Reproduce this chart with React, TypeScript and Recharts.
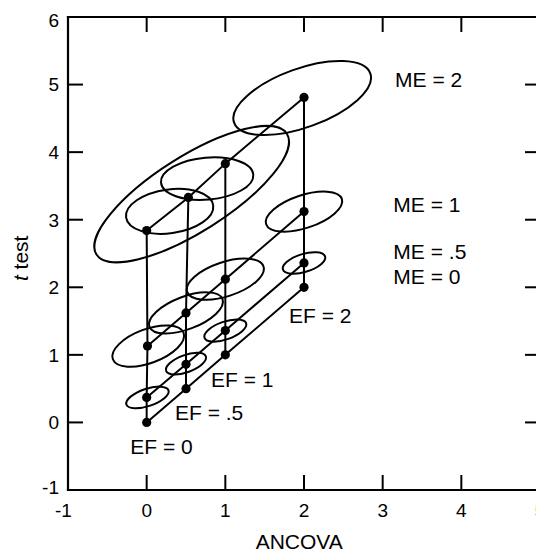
import React from 'react';
import { ScatterChart, Scatter, XAxis, YAxis } from 'recharts';

// ---------- data ----------
const xTicks = [-1, 0, 1, 2, 3, 4, 5];
const yTicks = [-1, 0, 1, 2, 3, 4, 5, 6];

// points [ANCOVA, t test] for each ME level, ordered by EF = 0, .5, 1, 2
const me0 = [[0, 0], [0.5, 0.5], [1, 1], [2, 2]];
const me05 = [[0, 0.37], [0.5, 0.86], [1, 1.36], [2, 2.36]];
const me1 = [[0.01, 1.13], [0.5, 1.62], [1, 2.12], [2, 3.12]];
const me2 = [[0, 2.84], [0.53, 3.33], [1, 3.83], [2, 4.81]];

// ellipses: centre, half-width (x units), half-height (y units), correlation
const ellipseList = [
  { x: 0.01, y: 0.37, halfW: 0.27, halfH: 0.16, rho: 0.55 },
  { x: 0.5, y: 0.87, halfW: 0.255, halfH: 0.16, rho: 0.55 },
  { x: 1, y: 1.36, halfW: 0.267, halfH: 0.165, rho: 0.55 },
  { x: 2, y: 2.36, halfW: 0.27, halfH: 0.16, rho: 0.5 },
  { x: 0.02, y: 1.13, halfW: 0.456, halfH: 0.306, rho: 0.5 },
  { x: 0.5, y: 1.62, halfW: 0.47, halfH: 0.305, rho: 0.55 },
  { x: 1, y: 2.12, halfW: 0.49, halfH: 0.305, rho: 0.5 },
  { x: 2, y: 3.12, halfW: 0.486, halfH: 0.297, rho: 0.52 },
  { x: 0.572, y: 3.378, halfW: 1.237, halfH: 1.009, rho: 0.77 },
  { x: 0.292, y: 3.124, halfW: 0.555, halfH: 0.333, rho: 0.2 },
  { x: 0.769, y: 3.609, halfW: 0.587, halfH: 0.315, rho: 0.15 },
  { x: 1.977, y: 4.801, halfW: 0.875, halfH: 0.548, rho: 0.55 },
];

const annotationList = [
  { x: 3.158, y: 4.969, text: 'ME = 2' },
  { x: 3.136, y: 3.11, text: 'ME = 1' },
  { x: 3.136, y: 2.414, text: 'ME = .5' },
  { x: 3.136, y: 2.05, text: 'ME = 0' },
  { x: 1.809, y: 1.467, text: 'EF = 2' },
  { x: 0.818, y: 0.52, text: 'EF = 1' },
  { x: 0.36, y: 0.036, text: 'EF = .5' },
  { x: -0.208, y: -0.46, text: 'EF = 0' },
];

// ---------- layout ----------
const W = 536;
const H = 543;
const PL = 60;
const PR = 532;
const PT = 9;
const PB = 482;
const KX = (PR - PL) / 6;
const KY = (PB - PT) / 7;
const FONT = '"Liberation Sans", Arial, Helvetica, sans-serif';
const TICK_LEN = 15;
const X_MAX = 5;
const Y_MAX = 6;

const toPts = (arr: number[][]) => arr.map(([x, y]) => ({ x, y }));
const rows = [me0, me05, me1, me2];
const rowData = rows.map(toPts);
const colData = [0, 1, 2, 3].map((j) => rows.map((r) => ({ x: r[j][0], y: r[j][1] })));

const XTick = (props: any) => {
  const { x, payload } = props;
  const v = payload.value;
  const dx = v < 0 ? -4.5 : 0;
  return (
    <g>
      <line x1={x} y1={PB} x2={x} y2={PB - TICK_LEN} stroke="#000" strokeWidth={2} />
      <line x1={x} y1={PT} x2={x} y2={PT + TICK_LEN} stroke="#000" strokeWidth={2} />
      {v === X_MAX && (
        <line x1={x} y1={PT} x2={x} y2={PB} stroke="#000" strokeWidth={2.2} strokeLinecap="square" />
      )}
      <text x={x + dx} y={PB + 27.3} textAnchor="middle" fontSize={19} fontFamily={FONT} fill="#000">
        {v}
      </text>
    </g>
  );
};

const YTick = (props: any) => {
  const { y, payload } = props;
  const v = payload.value;
  const shift = v === 6 ? 3 : v === -1 ? -2.5 : 0;
  return (
    <g>
      <line x1={PL} y1={y} x2={PL + TICK_LEN} y2={y} stroke="#000" strokeWidth={2} />
      <line x1={PR} y1={y} x2={PR - TICK_LEN} y2={y} stroke="#000" strokeWidth={2} />
      {v === Y_MAX && (
        <line x1={PL} y1={y} x2={PR} y2={y} stroke="#000" strokeWidth={2.2} strokeLinecap="square" />
      )}
      <text x={51} y={y + shift} dy="0.36em" textAnchor="end" fontSize={19} fontFamily={FONT} fill="#000">
        {v}
      </text>
    </g>
  );
};

const EllipseShape = (props: any) => {
  const { cx, cy, payload } = props;
  const wp = payload.halfW * KX;
  const hp = payload.halfH * KY;
  const sxx = wp * wp;
  const syy = hp * hp;
  const sxy = -payload.rho * wp * hp;
  const half = (sxx + syy) / 2;
  const diff = (sxx - syy) / 2;
  const disc = Math.sqrt(diff * diff + sxy * sxy);
  const a = Math.sqrt(half + disc);
  const b = Math.sqrt(Math.max(half - disc, 0.01));
  const deg = (0.5 * Math.atan2(2 * sxy, sxx - syy) * 180) / Math.PI;
  return (
    <ellipse
      cx={cx}
      cy={cy}
      rx={a}
      ry={b}
      transform={`rotate(${deg} ${cx} ${cy})`}
      fill="none"
      stroke="#000"
      strokeWidth={2}
    />
  );
};

const DotShape = (props: any) => <circle cx={props.cx} cy={props.cy} r={4.6} fill="#000" />;
const NoShape = () => <g />;

const TextShape = (props: any) => (
  <text x={props.cx} y={props.cy} fontSize={21} fontFamily={FONT} fill="#000">
    {props.payload.text}
  </text>
);

const XTitle = () => (
  <text x={291.2} y={540.5} textAnchor="middle" fontSize={21} fontFamily={FONT} fill="#000">
    ANCOVA
  </text>
);

const YTitle = () => (
  <text
    x={19.7}
    y={250.3}
    transform="rotate(-90 19.7 250.3)"
    textAnchor="middle"
    fontSize={21}
    fontFamily={FONT}
    fill="#000"
  >
    <tspan fontStyle="italic">t</tspan> test
  </text>
);

const AXIS_LINE = { stroke: '#000', strokeWidth: 2.2, strokeLinecap: 'square' as const };

export default function App() {
  return (
    <ScatterChart width={W} height={H} margin={{ top: PT, right: W - PR, bottom: 0, left: 0 }}>
      <XAxis
        type="number"
        dataKey="x"
        domain={[-1, X_MAX]}
        ticks={xTicks}
        allowDataOverflow
        height={H - PB}
        axisLine={AXIS_LINE}
        tickLine={false}
        tick={(p: any) => <XTick {...p} />}
        label={<XTitle />}
      />
      <YAxis
        type="number"
        dataKey="y"
        domain={[-1, Y_MAX]}
        ticks={yTicks}
        allowDataOverflow
        width={PL}
        axisLine={AXIS_LINE}
        tickLine={false}
        tick={(p: any) => <YTick {...p} />}
        label={<YTitle />}
      />
      <Scatter data={ellipseList} shape={(p: any) => <EllipseShape {...p} />} isAnimationActive={false} />
      {colData.map((d, i) => (
        <Scatter
          key={'c' + i}
          data={d}
          line={{ stroke: '#000', strokeWidth: 2 }}
          shape={() => <NoShape />}
          isAnimationActive={false}
        />
      ))}
      {rowData.map((d, i) => (
        <Scatter
          key={'r' + i}
          data={d}
          line={{ stroke: '#000', strokeWidth: 2 }}
          shape={(p: any) => <DotShape {...p} />}
          isAnimationActive={false}
        />
      ))}
      <Scatter data={annotationList} shape={(p: any) => <TextShape {...p} />} isAnimationActive={false} />
    </ScatterChart>
  );
}
